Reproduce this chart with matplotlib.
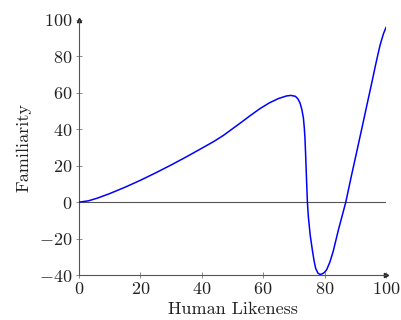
"""Uncanny valley curve."""
import matplotlib
matplotlib.use("Agg")
import matplotlib.pyplot as plt

# values
likeness = [0, 3, 6, 10, 15, 20, 25, 30, 35, 40, 44, 47, 50, 53, 56, 59, 62,
            65, 67.6, 69, 70.5, 71.3, 72, 72.6, 73.1, 73.4, 73.6, 73.8, 74.1,
            74.4, 74.7, 75.3, 76, 76.6, 77.1, 77.8, 78.5, 79.3, 80, 80.7, 81.7,
            82.8, 84.5, 86.9, 88.7, 90.6, 92.3, 94, 95.3, 96.5, 97.3, 98, 98.6,
            99.2, 100]
familiarity = [0, 0.7, 2.2, 4.7, 8.2, 12, 16.1, 20.4, 24.9, 29.6, 33.4, 36.6,
               40.3, 44, 47.8, 51.4, 54.5, 56.9, 58.3, 58.6, 58.1, 56.7, 54.4,
               50.8, 46.1, 40.5, 35.2, 27, 13, 0, -7.9, -18, -26.2, -32.5,
               -36.4, -38.9, -39.7, -39.3, -38.5, -37, -33, -27, -15.2, 0, 14.2,
               28.7, 41.8, 55, 65, 74.5, 80.6, 85.7, 89.3, 92.6, 95.9]
xticks = [0, 20, 40, 60, 80, 100]
yticks = [-40, -20, 0, 20, 40, 60, 80, 100]

plt.rcParams["mathtext.fontset"] = "cm"
plt.rcParams["font.family"] = "serif"
plt.rcParams["font.serif"] = ["cmr10", "DejaVu Serif"]
plt.rcParams["axes.unicode_minus"] = True

fig = plt.figure(figsize=(4.01, 3.20), dpi=100)
ax = fig.add_axes([0.197, 0.1406, 0.7656, 0.7969])

ax.axhline(0, color="#555555", lw=0.8, zorder=1)
ax.plot(likeness, familiarity, color="#0000ff", lw=1.1, zorder=3,
        solid_joinstyle="round")

ax.set_xlim(0, 100)
ax.set_ylim(-40, 100)
ax.set_xticks(xticks)
ax.set_yticks(yticks)
ax.set_xticklabels([f"${v}$" for v in xticks])
ax.set_yticklabels([f"${v}$" for v in yticks])
ax.tick_params(direction="inout", length=5, width=0.6, color="#777777",
               labelsize=13, labelcolor="#222222", pad=2)

for side in ("top", "right"):
    ax.spines[side].set_visible(False)
for side in ("left", "bottom"):
    ax.spines[side].set_color("#555555")
    ax.spines[side].set_linewidth(0.8)
ax.plot(1, 0, ">", color="#222222", ms=3, transform=ax.transAxes, clip_on=False)
ax.plot(0, 1, "^", color="#222222", ms=3, transform=ax.transAxes, clip_on=False)

ax.set_xlabel("Human Likeness", fontsize=13, color="#222222", labelpad=3)
ax.set_ylabel("Familiarity", fontsize=13, color="#222222", labelpad=6)

fig.savefig("out.png", dpi=100)
